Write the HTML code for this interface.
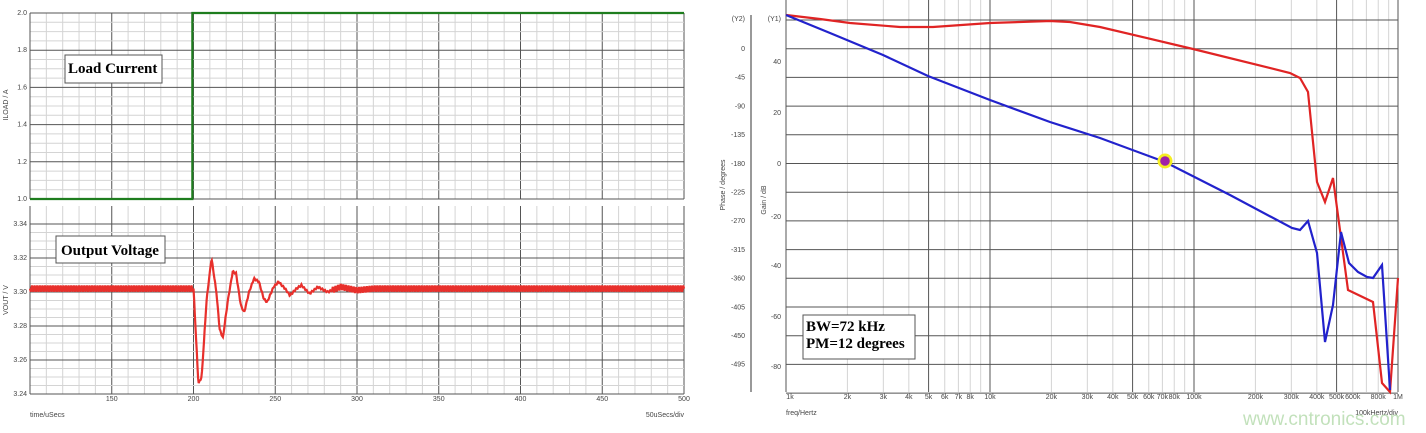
<!DOCTYPE html>
<html><head><meta charset="utf-8"><style>
html,body{margin:0;padding:0;background:#fff;}
svg{display:block;font-family:"Liberation Sans",sans-serif;}
.t{font-size:7px;fill:#444;}
.b{font-family:"Liberation Serif",serif;font-weight:bold;font-size:15px;fill:#000;}
</style></head><body>
<svg id="s" width="1426" height="433" viewBox="0 0 1426 433" xmlns="http://www.w3.org/2000/svg">
<g id="g"></g>
</svg>
<script>
var g=document.getElementById('g'),h='';
function L(x1,y1,x2,y2,c,w){h+='<line x1="'+x1+'" y1="'+y1+'" x2="'+x2+'" y2="'+y2+'" stroke="'+c+'" stroke-width="'+(w||1)+'"/>';}
function T(x,y,s,a,cl,ex){h+='<text x="'+x+'" y="'+y+'" class="'+(cl||'t')+'" text-anchor="'+(a||'start')+'" '+(ex||'')+'>'+s+'</text>';}
var X0=30,X1=684;function tx(t){return X0+(t-100)*(X1-X0)/400;}
for(var t=100;t<=500;t+=10){var c=(t%50==0)?'#555':'#d4d4d4';L(tx(t),13,tx(t),199,c);L(tx(t),206,tx(t),394,c);}
for(var i=0;i<=20;i++){var y=13+i*186/20;L(X0,y,X1,y,i%4==0?'#555':'#d4d4d4');}
for(var i=0;i<=20;i++){var y=224+i*170/20;L(X0,y,X1,y,i%4==0?'#555':'#d4d4d4');}
L(X0,13,X0,199,'#555');L(X0,206,X0,394,'#555');
['2.0','1.8','1.6','1.4','1.2','1.0'].forEach(function(s,i){T(27,13+i*37.2+2,s,'end');});
['3.34','3.32','3.30','3.28','3.26','3.24'].forEach(function(s,i){T(27,224+i*34+2,s,'end');});
[150,200,250,300,350,400,450,500].forEach(function(v){T(tx(v),401,v,'middle');});
T(30,417,'time/uSecs');T(684,417,'50uSecs/div','end');
T(8,105,'ILOAD / A','middle','t','transform="rotate(-90 8 105)"');
T(8,300,'VOUT / V','middle','t','transform="rotate(-90 8 300)"');
h+='<polyline points="'+X0+',199 '+tx(199.3)+',199 '+tx(199.3)+',13 '+X1+',13" fill="none" stroke="#1e7d1e" stroke-width="2.2"/>';
function vy(v){return 292-(v-3.30)*1700;}
var kp=[[200,3.302],[203,3.246],[205,3.250],[208,3.295],[211,3.320],[214,3.300],[216,3.278],[218,3.273],[221,3.295],[224,3.312],[226,3.311],[229,3.292],[231,3.288],[234,3.300],[237,3.308],[240,3.306],[243,3.296],[245,3.294],[249,3.303],[252,3.306],[256,3.302],[259,3.298],[263,3.302],[266,3.304],[271,3.299],[276,3.303],[282,3.300],[290,3.303],[300,3.301],[310,3.302]];
function interp(t){for(var i=0;i<kp.length-1;i++){if(t>=kp[i][0]&&t<=kp[i+1][0]){var f=(t-kp[i][0])/(kp[i+1][0]-kp[i][0]);return kp[i][1]+f*(kp[i+1][1]-kp[i][1]);}}return 3.302;}
var p=[];for(var t=100;t<=500;t+=0.4){var r=0.0018*Math.sin(2*Math.PI*t/1.6);var v=(t<200)?3.302+r:interp(t)+r*(t>285?1:0.25);p.push(tx(t).toFixed(1)+','+vy(v).toFixed(1));}
h+='<polyline points="'+p.join(' ')+'" fill="none" stroke="#e8302c" stroke-width="2.2"/>';
h+='<rect x="65" y="55" width="97" height="28" fill="#fff" stroke="#555"/>';T(68,73,'Load Current','start','b');
h+='<rect x="56" y="236" width="109" height="27" fill="#fff" stroke="#555"/>';T(61,255,'Output Voltage','start','b');
var F0=786,D=204;function fx(f){return F0+Math.log10(f/1000)*D;}
var top=20,bot=392;
for(var d=1000;d<1e6;d*=10){for(var k=1;k<10;k++){var x=fx(d*k);L(x,top,x,bot,(k==1||k==5)?'#555':'#d4d4d4');}}
L(fx(1e6),top,fx(1e6),bot,'#555');
for(var i=0;i<=13;i++){var y=20+i*28.7;L(F0,y,fx(1e6),y,'#555');}
L(751,15,751,392,'#333');
['0','-45','-90','-135','-180','-225','-270','-315','-360','-405','-450','-495'].forEach(function(s,i){T(745,49+i*28.7+2,s,'end');});
T(745,21,'(Y2)','end');T(781,21,'(Y1)','end');
[[40,62],[20,113],[0,164],[-20,217],[-40,266],[-60,317],[-80,367]].forEach(function(a){T(781,a[1]+2,a[0],'end');});
[['1k',1e3],['2k',2e3],['3k',3e3],['4k',4e3],['5k',5e3],['6k',6e3],['7k',7e3],['8k',8e3],['10k',1e4],['20k',2e4],['30k',3e4],['40k',4e4],['50k',5e4],['60k',6e4],['70k',7e4],['80k',8e4],['100k',1e5],['200k',2e5],['300k',3e5],['400k',4e5],['500k',5e5],['600k',6e5],['800k',8e5],['1M',1e6]].forEach(function(a){T(fx(a[1])+(a[0]=='1k'?4:0),399,a[0],'middle');});
T(786,415,'freq/Hertz');T(1398,415,'100kHertz/div','end');
T(725,185,'Phase / degrees','middle','t','transform="rotate(-90 725 185)"');
T(766,200,'Gain / dB','middle','t','transform="rotate(-90 766 200)"');
var red='786,15 820,19 850,23 900,27 933,27 990,23 1050,21 1070,22 1100,27 1193,49 1290,73 1300,78 1308,92 1317,182 1325,202 1333,178 1348,290 1373,302 1382,383 1390,392 1398,278';
var blue='786,15 830,33 883,55 928,76 990,100 1050,122 1100,138 1165,162 1230,195 1292,228 1300,230 1308,221 1317,253 1325,342 1333,305 1341,232 1349,263 1358,272 1367,277 1373,278 1382,265 1390,390';
h+='<polyline points="'+red+'" fill="none" stroke="#e02424" stroke-width="2.2"/>';
h+='<polyline points="'+blue+'" fill="none" stroke="#2222cc" stroke-width="2.2"/>';
h+='<circle cx="1165" cy="161" r="7.5" fill="#f5ee22"/><circle cx="1165" cy="161" r="4.8" fill="#a020a8"/>';
h+='<rect x="803" y="315" width="112" height="44" fill="#fff" stroke="#555"/>';T(806,331,'BW=72 kHz','start','b');T(806,348,'PM=12 degrees','start','b');
T(1243,425,'www.cntronics.com','start','t','style="font-size:19px;fill:#b8dcb0;opacity:0.85"');
g.innerHTML=h;
</script>
</body></html>
